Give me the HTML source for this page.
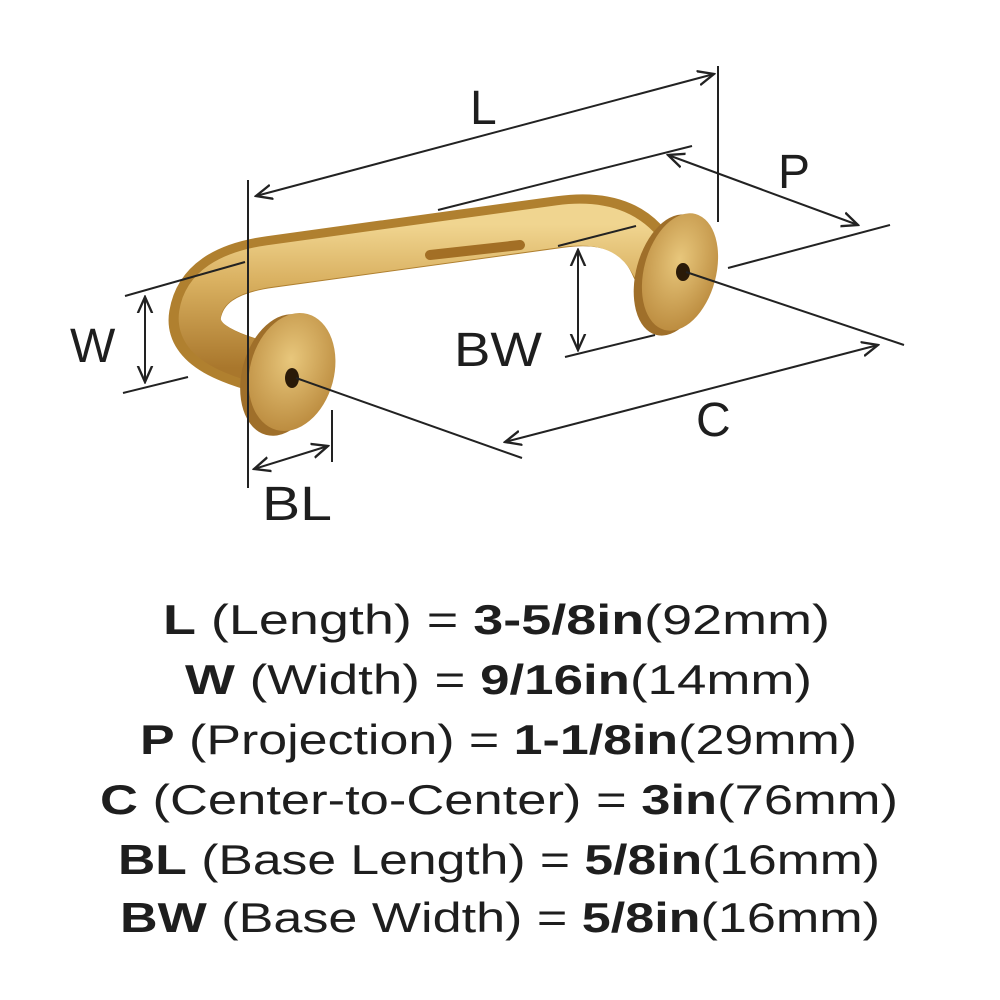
<!DOCTYPE html>
<html><head><meta charset="utf-8"><style>
html,body{margin:0;padding:0;background:#fff;}
svg{display:block;}
text{font-family:"Liberation Sans",sans-serif;fill:#1e1e1e;}
</style></head><body>
<svg width="1000" height="1000" viewBox="0 0 1000 1000" xmlns="http://www.w3.org/2000/svg">
<defs>
<linearGradient id="g" x1="0" y1="0" x2="0" y2="1">
<stop offset="0" stop-color="#f0d590"/><stop offset="0.4" stop-color="#d9b060"/><stop offset="1" stop-color="#a9772c"/>
</linearGradient>
<radialGradient id="d" cx="0.45" cy="0.4" r="0.7">
<stop offset="0" stop-color="#e8c77c"/><stop offset="1" stop-color="#b68437"/>
</radialGradient>
<marker id="a" viewBox="0 0 10 10" refX="9" refY="5" markerWidth="9" markerHeight="9" orient="auto-start-reverse">
<path d="M0,1 L9,5 L0,9" fill="none" stroke="#222" stroke-width="1.3"/>
</marker>
</defs>
<path d="M280,372 C230,360 190,345 195,315 C200,285 225,268 270,262 L560,222 C610,215 640,230 655,262 L680,280" fill="none" stroke="#b0802f" stroke-width="52" stroke-linecap="round"/>
<path d="M280,368 C232,356 196,342 200,314 C204,288 228,272 270,266 L560,226 C606,220 634,234 650,262 L676,280" fill="none" stroke="url(#g)" stroke-width="42" stroke-linecap="round"/>
<path d="M430,255 L520,245" stroke="#a36f25" stroke-width="10" stroke-linecap="round"/>
<ellipse cx="672" cy="275" rx="36" ry="62" fill="#9f6f2a" transform="rotate(15 672 275)"/>
<ellipse cx="680" cy="272" rx="36" ry="60" fill="url(#d)" transform="rotate(15 680 272)"/>
<ellipse cx="683" cy="272" rx="7" ry="9" fill="#2a1a08"/>
<ellipse cx="282" cy="375" rx="40" ry="62" fill="#9f6f2a" transform="rotate(15 282 375)"/>
<ellipse cx="292" cy="372" rx="42" ry="60" fill="url(#d)" transform="rotate(15 292 372)"/>
<ellipse cx="292" cy="378" rx="7" ry="10" fill="#2a1a08"/>
<g stroke="#222" stroke-width="2" fill="none">
<line x1="248" y1="180" x2="248" y2="488"/>
<line x1="718" y1="66" x2="718" y2="222"/>
<line x1="256" y1="196" x2="714" y2="74" marker-start="url(#a)" marker-end="url(#a)"/>
<line x1="438" y1="210" x2="692" y2="146"/>
<line x1="728" y1="268" x2="890" y2="225"/>
<line x1="668" y1="155" x2="858" y2="225" marker-start="url(#a)" marker-end="url(#a)"/>
<line x1="125" y1="296" x2="245" y2="262"/>
<line x1="123" y1="393" x2="188" y2="377"/>
<line x1="145" y1="297" x2="145" y2="382" marker-start="url(#a)" marker-end="url(#a)"/>
<line x1="558" y1="246" x2="636" y2="226"/>
<line x1="565" y1="357" x2="655" y2="335"/>
<line x1="578" y1="250" x2="578" y2="350" marker-start="url(#a)" marker-end="url(#a)"/>
<line x1="296" y1="378" x2="522" y2="458"/>
<line x1="686" y1="272" x2="904" y2="345"/>
<line x1="505" y1="442" x2="878" y2="345" marker-start="url(#a)" marker-end="url(#a)"/>
<line x1="332" y1="410" x2="332" y2="462"/>
<line x1="254" y1="469" x2="328" y2="446" marker-start="url(#a)" marker-end="url(#a)"/>
</g>
<g font-size="48">
<text x="470" y="124">L</text>
<text x="778" y="188">P</text>
<text x="70" y="362">W</text>
<text x="454" y="366" textLength="88" lengthAdjust="spacingAndGlyphs">BW</text>
<text x="262" y="520" textLength="70" lengthAdjust="spacingAndGlyphs">BL</text>
<text x="696" y="436">C</text>
</g>
<g font-size="42">
<text x="163" y="634" textLength="667" lengthAdjust="spacingAndGlyphs"><tspan font-weight="bold">L</tspan> (Length) = <tspan font-weight="bold">3-5/8in</tspan>(92mm)</text>
<text x="185" y="694" textLength="627" lengthAdjust="spacingAndGlyphs"><tspan font-weight="bold">W</tspan> (Width) = <tspan font-weight="bold">9/16in</tspan>(14mm)</text>
<text x="140" y="754" textLength="717" lengthAdjust="spacingAndGlyphs"><tspan font-weight="bold">P</tspan> (Projection) = <tspan font-weight="bold">1-1/8in</tspan>(29mm)</text>
<text x="100" y="814" textLength="798" lengthAdjust="spacingAndGlyphs"><tspan font-weight="bold">C</tspan> (Center-to-Center) = <tspan font-weight="bold">3in</tspan>(76mm)</text>
<text x="118" y="874" textLength="762" lengthAdjust="spacingAndGlyphs"><tspan font-weight="bold">BL</tspan> (Base Length) = <tspan font-weight="bold">5/8in</tspan>(16mm)</text>
<text x="120" y="932" textLength="760" lengthAdjust="spacingAndGlyphs"><tspan font-weight="bold">BW</tspan> (Base Width) = <tspan font-weight="bold">5/8in</tspan>(16mm)</text>
</g>
</svg>
</body></html>
